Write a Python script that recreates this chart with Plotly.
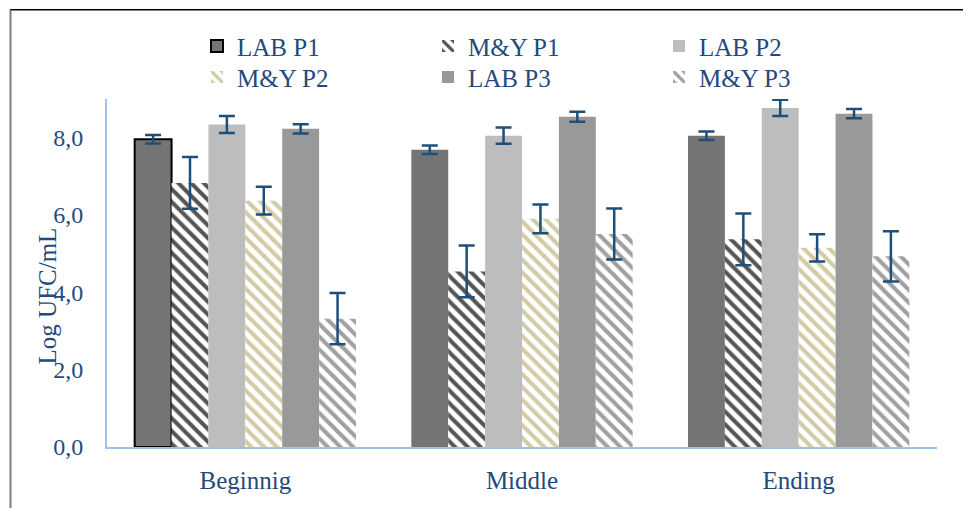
import plotly.graph_objects as go

categories = ["Beginnig", "Middle", "Ending"]
series_names = ["LAB P1", "M&Y P1", "LAB P2", "M&Y P2", "LAB P3", "M&Y P3"]

lab_p1 = [7.96, 7.69, 8.05]
my_p1 = [6.83, 4.54, 5.37]
lab_p2 = [8.34, 8.05, 8.77]
my_p2 = [6.37, 5.90, 5.15]
lab_p3 = [8.23, 8.54, 8.62]
my_p3 = [3.32, 5.51, 4.93]

err_lab_p1 = [0.11, 0.11, 0.11]
err_my_p1 = [0.67, 0.67, 0.67]
err_lab_p2 = [0.22, 0.21, 0.21]
err_my_p2 = [0.36, 0.37, 0.35]
err_lab_p3 = [0.12, 0.13, 0.12]
err_my_p3 = [0.66, 0.66, 0.65]

tick_vals = [0, 2, 4, 6, 8]

values = [lab_p1, my_p1, lab_p2, my_p2, lab_p3, my_p3]
errors = [err_lab_p1, err_my_p1, err_lab_p2, err_my_p2, err_lab_p3, err_my_p3]
legend_ids = ["legend", "legend", "legend", "legend2", "legend2", "legend2"]

TXT = "#244A7C"
ERR = "#1F4E79"
FONT = "Liberation Serif"

styles = [
    dict(color="#747474", line=dict(color="#000000", width=[2, 0, 0])),
    dict(color="white", line=dict(width=0),
         pattern=dict(shape="\\", fgcolor="#555555", bgcolor="white", size=9, solidity=0.45, fillmode="replace")),
    dict(color="#bdbdbd", line=dict(width=0)),
    dict(color="white", line=dict(width=0),
         pattern=dict(shape="\\", fgcolor="#d3cba6", bgcolor="white", size=9, solidity=0.45, fillmode="replace")),
    dict(color="#999999", line=dict(width=0)),
    dict(color="white", line=dict(width=0),
         pattern=dict(shape="\\", fgcolor="#a0a0a0", bgcolor="white", size=9, solidity=0.45, fillmode="replace")),
]

fig = go.Figure()
for name, vals, errs, st, lg in zip(series_names, values, errors, styles, legend_ids):
    fig.add_trace(go.Bar(
        x=categories, y=vals, name=name, marker=st, legend=lg,
        error_y=dict(type="data", array=errs, visible=True, color=ERR, thickness=2.5, width=8),
    ))

# helpers: page pixel coords -> paper coords (page has an 8px body margin)
x_px = lambda px: (px - 107) / 830
y_px = lambda py: (447 - py) / 349

legend_common = dict(orientation="h", xanchor="left", yanchor="top",
                     entrywidth=186, entrywidthmode="pixels",
                     font=dict(family=FONT, color=TXT, size=25), bgcolor="rgba(0,0,0,0)",
                     itemclick=False, tracegroupgap=0)

fig.update_layout(
    width=963, height=500,
    margin=dict(l=99, r=34, t=91, b=61),
    paper_bgcolor="white", plot_bgcolor="white",
    barmode="group", bargap=0.2, bargroupgap=0,
    separators=",.",
    font=dict(family=FONT, color=TXT, size=25),
    showlegend=True,
    legend=dict(x=x_px(197), y=y_px(22), **legend_common),
    legend2=dict(x=x_px(197), y=y_px(53), **legend_common),
    xaxis=dict(showline=True, linecolor="#9DC3E6", linewidth=2, showgrid=False, ticks="",
               tickfont=dict(family=FONT, color=TXT, size=25), ticklabelstandoff=10),
    yaxis=dict(range=[0, 9.0], showline=True, linecolor="#9DC3E6", linewidth=2, showgrid=False,
               zeroline=False, ticks="", tickvals=tick_vals, tickformat=".1f",
               tickfont=dict(family=FONT, color=TXT, size=24), ticklabelstandoff=17),
    annotations=[dict(text="Log UFC/mL", textangle=-90, xref="paper", yref="paper",
                      x=x_px(47), y=y_px(296), xanchor="center", yanchor="middle", showarrow=False,
                      font=dict(family=FONT, color=TXT, size=25))],
    shapes=[
        dict(type="line", xref="paper", yref="paper", x0=x_px(10), x1=x_px(975), y0=y_px(8.5), y1=y_px(8.5),
             line=dict(color="#000000", width=1.5)),
        dict(type="line", xref="paper", yref="paper", x0=x_px(10.5), x1=x_px(10.5), y0=y_px(8.5), y1=y_px(510),
             line=dict(color="#7f7f7f", width=2)),
    ],
)

fig.write_html("out.html")
